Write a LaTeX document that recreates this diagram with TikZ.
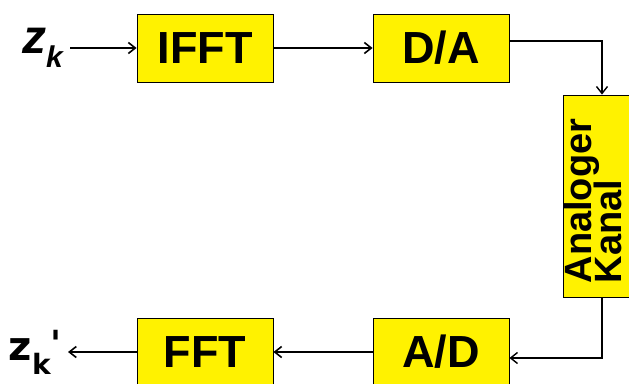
\documentclass[tikz,border=0pt]{standalone}
\usepackage{fontspec}
\setmainfont{Liberation Sans}
\newfontfamily\dejavu{DejaVu Sans}
\usetikzlibrary{arrows.meta,shadows}
\newcommand\mytightlines{\lineskiplimit=-100pt\relax\lineskip=0pt\relax}
\begin{document}
\begin{tikzpicture}[x=1pt,y=-1pt,
  blockbox/.style={draw=black,line width=0.8pt,fill=yellow,minimum width=136pt,minimum height=68pt,inner sep=0pt,
    drop shadow={shadow xshift=1.2pt,shadow yshift=-1.2pt,fill=gray!70,opacity=1},
    font=\fontsize{45}{45}\selectfont\bfseries},
  conn/.style={line width=1.8pt,-{Straight Barb[length=7pt,width=11pt,line width=1.6pt]}},
  connthin/.style={line width=1.4pt,-{Straight Barb[length=7pt,width=11pt,line width=1.4pt]}}]
\useasboundingbox (0,0) rectangle (629,383);
\clip (0,0) rectangle (629,383);
\node[blockbox] (ifft) at (205,48) {IFFT};
\node[blockbox] (da) at (441,48) {D/A};
\node[blockbox,minimum width=78pt,minimum height=202pt] (kanal) at (602,196) {};
\node[rotate=90,align=left,inner sep=0pt,font=\fontsize{38}{30}\selectfont\bfseries\mytightlines] (kanaltxt) at (593,201) {Analoger\\Kanal};
\node[blockbox] (ad) at (441,352) {A/D};
\node[blockbox] (fft) at (205,352) {FFT};
\coordinate (zin) at (70,48);
\coordinate (zout) at (68,352);
\node[inner sep=0pt,anchor=east] (zklabel) at (63,48) {\fontsize{48}{48}\selectfont\bfseries\itshape z\raisebox{-14pt}{\fontsize{30}{30}\selectfont k}};
\node[inner sep=0pt,anchor=east] (zkout) at (62,352) {\dejavu\bfseries\fontsize{40}{40}\selectfont z\raisebox{-14pt}{\fontsize{28}{28}\selectfont k}\raisebox{4pt}{\fontsize{36}{36}\selectfont '}};
\draw[conn] (zin) -- (ifft.west);
\draw[conn] (ifft.east) -- (da.west);
\draw[connthin] ([yshift=7pt]da.east) -| (kanal.north);
\draw[connthin] (kanal.south) |- ([yshift=-6pt]ad.east);
\draw[conn] (ad.west) -- (fft.east);
\draw[conn] (fft.west) -- (zout);
\end{tikzpicture}
\end{document}
